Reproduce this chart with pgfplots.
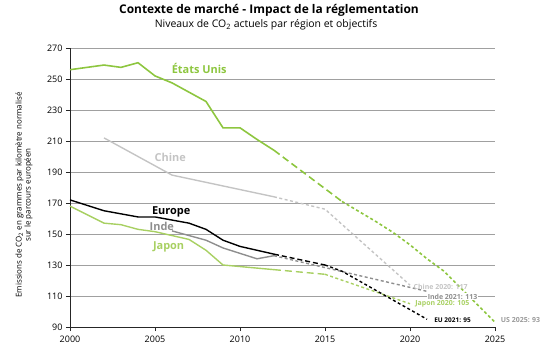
\documentclass[border=0pt]{standalone}
\usepackage{pgfplots}
\pgfplotsset{compat=1.18}
\usepackage{fontspec}
\setmainfont{Open Sans}
\definecolor{usgreen}{HTML}{8DC63F}
\definecolor{japgreen}{HTML}{A8D062}
\definecolor{chinegray}{HTML}{C4C4C4}
\definecolor{indegray}{HTML}{8E8E8E}
\definecolor{gridgray}{HTML}{A0A0A0}
\definecolor{usgray}{HTML}{9A9A9A}
\begin{document}
\begin{tikzpicture}
\path[use as bounding box] (-70bp,-23bp) rectangle (480bp,327bp);
\begin{axis}[
  scale only axis, width=425bp, height=279bp,
  xmin=2000, xmax=2025, ymin=90, ymax=270,
  xtick={2000,2005,...,2025}, ytick={90,110,...,270},
  axis x line*=bottom, axis y line*=left,
  ymajorgrids, grid style={color=gridgray, line width=0.9pt},
  tick align=outside, major tick length=4bp,
  tick style={black!85, line width=0.8pt},
  axis line style={black!85, line width=1pt},
  /pgf/number format/1000 sep={},
  /pgf/number format/assume math mode=true,
  tick label style={font=\fontsize{9}{10}\selectfont},
  xticklabel style={yshift=-1bp},
  clip=false,
]
% Etats Unis
\addplot[usgreen, line width=1.6pt] coordinates {(2000,256)(2001,257.5)(2002,259)(2003,257.5)(2004,260.5)(2005,252)(2006,247.5)(2007,241.5)(2008,235.5)(2009,218.5)(2010,218.5)(2011,211)(2012,204)};
\addplot[usgreen, line width=1.6pt, dash pattern=on 7pt off 4pt] coordinates {(2012,204)(2016,171)};
\addplot[usgreen, line width=1.6pt, dash pattern=on 3pt off 2.5pt] coordinates {(2016,171)(2018,158)(2019,151)(2020,143)(2021,134)(2022,126)(2023,115)(2024,104)(2025,93)};
% Chine
\addplot[chinegray, line width=1.4pt] coordinates {(2002,212)(2006,188)(2012,174)};
\addplot[chinegray, line width=1.4pt, dash pattern=on 3pt off 2.5pt] coordinates {(2012,174)(2015,166)(2020,117)};
% Inde
\addplot[indegray, line width=1.4pt] coordinates {(2006,152)(2008,146)(2009,141)(2011,134)(2012,136)};
\addplot[indegray, line width=1.4pt, dash pattern=on 3pt off 2.5pt] coordinates {(2012,136)(2021,113)};
% Japon
\addplot[japgreen, line width=1.4pt] coordinates {(2000,168)(2002,157)(2003,156)(2004,153)(2005,151.5)(2007,146.5)(2008,139.5)(2009,130)(2010,129)(2012,127)};
\addplot[japgreen, line width=1.4pt, dash pattern=on 7pt off 4pt] coordinates {(2012,127)(2015,124)};
\addplot[japgreen, line width=1.4pt, dash pattern=on 3pt off 2.5pt] coordinates {(2015,124)(2020,105)};
% Europe
\addplot[black, line width=1.4pt] coordinates {(2000,172)(2002,165)(2004,161)(2005,161)(2007,157)(2008,153)(2009,146)(2010,142)(2012,137)};
\addplot[black, line width=1.4pt, dash pattern=on 5pt off 3pt] coordinates {(2012,137)(2015,130)};
\addplot[black, line width=1.4pt, dash pattern=on 3pt off 2.5pt] coordinates {(2015,130)(2016,126)(2021,95)};
% series labels
\node[font=\bfseries\fontsize{11}{13}\selectfont, text=usgreen] at (axis cs:2007.6,257) {États Unis};
\node[font=\bfseries\fontsize{11}{13}\selectfont, text=chinegray] at (axis cs:2005.9,199.5) {Chine};
\node[font=\bfseries\fontsize{11}{13}\selectfont, text=black] at (axis cs:2005.95,164) {Europe};
\node[font=\bfseries\fontsize{11}{13}\selectfont, text=indegray] at (axis cs:2005.4,155) {Inde};
\node[font=\bfseries\fontsize{11}{13}\selectfont, text=japgreen] at (axis cs:2005.8,141.5) {Japon};
% end labels
\node[font=\bfseries\fontsize{7}{8}\selectfont, text=chinegray, inner sep=0.5pt] at (axis cs:2021.8,116) {Chine 2020: 117};
\node[font=\bfseries\fontsize{7}{8}\selectfont, text=indegray, fill=white, inner sep=0.8pt] at (axis cs:2022.5,109.6) {Inde 2021: 113};
\node[font=\bfseries\fontsize{7}{8}\selectfont, text=japgreen, inner sep=0.5pt] at (axis cs:2021.9,105) {Japon 2020: 105};
\node[font=\bfseries\fontsize{6.5}{8}\selectfont, text=black, inner sep=0.5pt] at (axis cs:2022.5,94.6) {EU 2021: 95};
\node[font=\bfseries\fontsize{7}{8}\selectfont, text=usgray, inner sep=0.5pt] at (axis cs:2026.5,94.6) {US 2025: 93};
\end{axis}
% titles
\node[font=\bfseries\fontsize{12}{14}\selectfont] at (199bp,317bp) {Contexte de marché - Impact de la réglementation};
\node[font=\fontsize{10.5}{12}\selectfont] at (196bp,302bp) {Niveaux de CO\textsubscript{2} actuels par région et objectifs};
% y label
\node[rotate=90, align=center, font=\fontsize{8}{9}\selectfont] at (-46bp,132bp) {Emissions de CO\textsubscript{2} en grammes par kilomètre normalisé\\sur le parcours européen};
\end{tikzpicture}
\end{document}
